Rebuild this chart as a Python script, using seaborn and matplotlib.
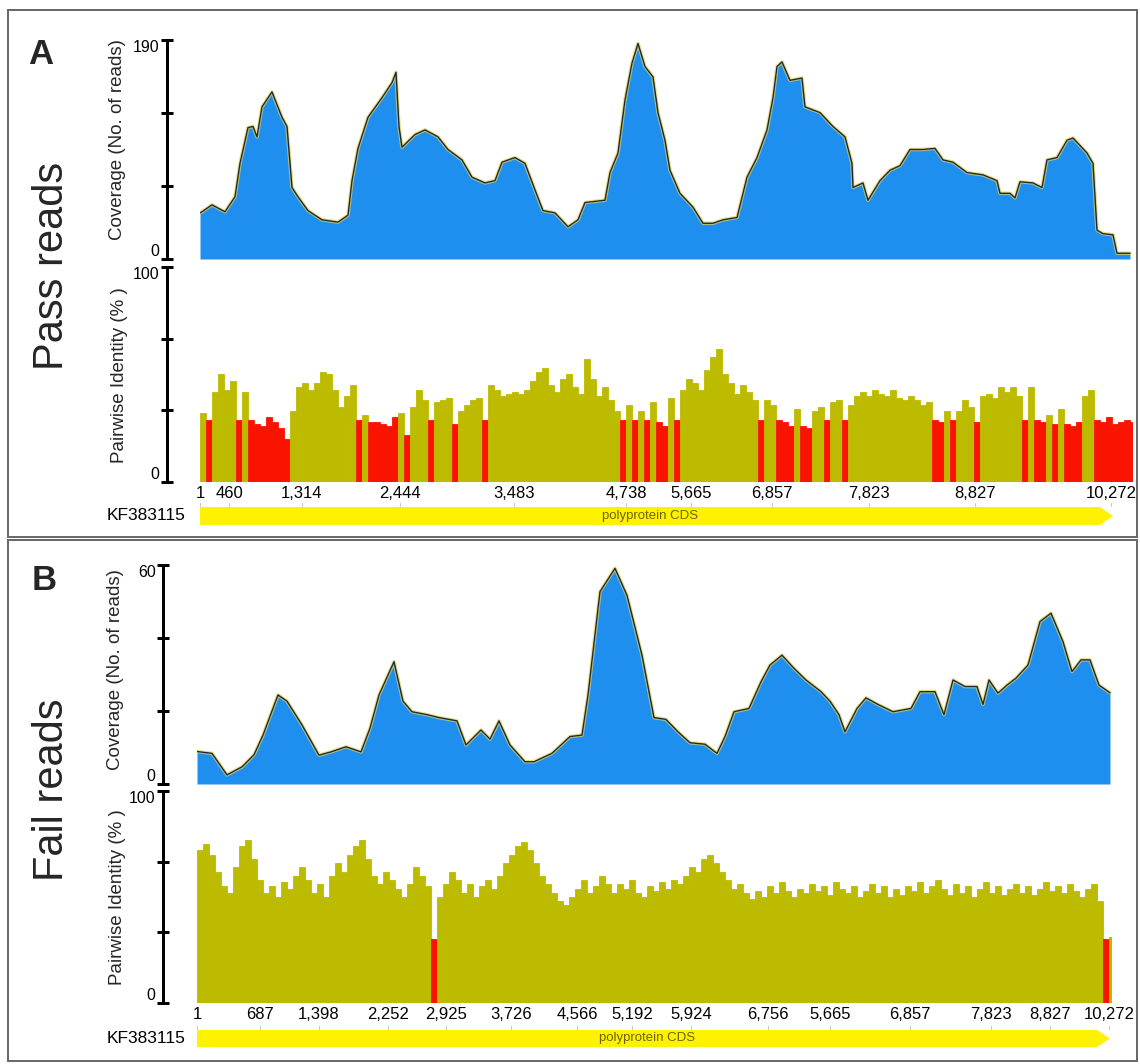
import numpy as np
import pandas as pd
import matplotlib
matplotlib.use('Agg')
import matplotlib.pyplot as plt
import seaborn as sns
from matplotlib.patches import Rectangle, Polygon

# ---------------- data ----------------
# Panel A (Pass reads) coverage: relative position along alignment, number of reads
cov_a_pos = [0, 2, 12, 25, 35, 40, 48, 53, 57, 62, 72, 82, 87, 92, 98, 108, 122, 138, 148, 152,
             158, 168, 182, 192, 196, 199, 202, 215, 225, 238, 248, 262, 272, 285, 295, 302, 315,
             325, 335, 343, 355, 368, 378, 385, 405, 410, 418, 425, 432, 438, 445, 453, 458, 465,
             470, 480, 493, 503, 513, 523, 537, 547, 557, 567, 573, 577, 582, 590, 602, 605, 620,
             633, 645, 652, 653, 663, 668, 680, 690, 700, 710, 723, 735, 743, 753, 767, 783, 797,
             800, 810, 815, 820, 833, 842, 847, 857, 867, 873, 887, 893, 897, 903, 913, 917, 930]
cov_a_val = [40, 41, 47, 41, 54, 83, 114, 115, 106, 132, 145, 123, 115, 62, 54, 42, 34, 32, 38, 68,
             96, 123, 140, 153, 162, 115, 97, 108, 112, 106, 95, 86, 71, 66, 68, 84, 88,
             83, 60, 42, 40, 28, 34, 49, 51, 75, 92, 138, 170, 187, 167, 158, 127, 103,
             77, 57, 45, 31, 31, 34, 36, 71, 88, 112, 140, 167, 171, 155, 157, 132, 127,
             115, 106, 83, 62, 66, 51, 68, 77, 81, 95, 95, 96, 86, 84, 75, 73, 68,
             57, 57, 53, 67, 66, 62, 86, 88, 103, 105, 92, 83, 25, 22, 21, 5, 5]

# Panel A pairwise identity (%), one value per window along the alignment
ident_a = [32, 29, 42, 50, 43, 47, 29, 42, 29, 27, 26, 30, 28, 25, 20, 33, 44, 46, 43, 46,
           51, 50, 43, 35, 40, 45, 29, 31, 28, 28, 27, 26, 30, 32, 22, 35, 43, 38, 29, 37,
           38, 39, 27, 33, 36, 38, 39, 29, 45, 43, 40, 41, 42, 41, 43, 47, 51, 53, 45, 42,
           48, 50, 44, 41, 57, 48, 40, 44, 38, 33, 29, 36, 29, 33, 29, 37, 28, 26, 39, 29,
           43, 48, 46, 43, 52, 58, 62, 50, 46, 41, 45, 42, 38, 29, 38, 36, 29, 28, 26, 34,
           26, 25, 33, 35, 29, 37, 38, 29, 36, 40, 42, 40, 43, 41, 40, 43, 39, 38, 40, 38,
           36, 37, 29, 28, 33, 29, 33, 38, 35, 28, 40, 41, 39, 44, 42, 44, 40, 29, 44, 29,
           28, 31, 27, 34, 27, 26, 28, 40, 43, 29, 28, 30, 27, 28, 29, 28]

# Panel B (Fail reads) coverage
cov_b_pos = [0, 15, 30, 45, 57, 66, 81, 90, 105, 122, 134, 149, 164, 173, 182, 197, 206, 215, 230,
             242, 260, 269, 284, 293, 302, 313, 328, 337, 355, 373, 385, 391, 403, 418, 430, 445,
             457, 469, 481, 493, 508, 520, 528, 537, 552, 564, 573, 585, 597, 609, 624, 633, 642,
             648, 660, 669, 681, 696, 714, 723, 738, 747, 756, 768, 780, 786, 792, 801, 810, 819,
             831, 843, 854, 866, 875, 884, 893, 902, 913]
cov_b_val = [8.9, 8.4, 2.5, 4.7, 8.0, 13.4, 24.4, 22.7, 16.2, 7.9, 8.8, 10.2, 8.8, 15.3, 24.4, 33.5,
             22.7, 19.8, 19.0, 18.2, 17.3, 10.7, 14.8, 12.3, 17.3, 10.7, 6.1, 6.1, 8.4, 13.0, 13.4,
             24.4, 52.7, 59.1, 51.7, 35.3, 18.2, 17.7, 14.3, 11.3, 10.9, 8.4, 13.0, 19.8, 20.7, 28.0,
             32.6, 35.3, 31.7, 28.5, 25.3, 22.7, 19.0, 14.3, 20.7, 23.6, 21.8, 19.8, 20.7, 25.3, 25.3,
             19.0, 28.5, 26.7, 26.7, 21.8, 28.5, 24.9, 27.1, 29.0, 32.6, 44.5, 46.8, 39.0, 30.8, 34.0,
             34.0, 27.1, 25.0]

# Panel B pairwise identity (%)
ident_b = [72, 75, 70, 62, 55, 52, 64, 74, 77, 68, 58, 52, 55, 50, 57, 54, 60, 64, 58, 52,
           56, 50, 60, 66, 62, 70, 74, 77, 68, 60, 56, 62, 58, 54, 50, 56, 64, 60, 55, 30,
           50, 56, 62, 58, 52, 56, 50, 55, 58, 54, 60, 66, 70, 74, 76, 72, 66, 60, 56, 52,
           48, 46, 50, 54, 58, 52, 55, 60, 56, 52, 56, 54, 58, 52, 50, 55, 53, 57, 54, 58,
           56, 60, 64, 62, 68, 70, 66, 62, 58, 54, 56, 52, 49, 53, 50, 55, 52, 57, 53, 50,
           54, 52, 56, 53, 55, 51, 57, 54, 52, 55, 50, 53, 56, 52, 55, 50, 54, 51, 55, 53,
           57, 52, 55, 58, 54, 51, 56, 52, 55, 50, 54, 57, 52, 55, 51, 54, 56, 52, 55, 51,
           54, 57, 53, 55, 52, 56, 53, 50, 54, 56, 48, 30, 31, 30]

ticks_a = ["1", "460", "1,314", "2,444", "3,483", "4,738", "5,665", "6,857", "7,823", "8,827", "10,272"]
ticks_b = ["1", "687", "1,398", "2,252", "2,925", "3,726", "4,566", "5,192", "5,924", "6,756",
           "5,665", "6,857", "7,823", "8,827", "10,272"]

# ---------------- style / layout ----------------
sns.set_style('white')
plt.rcParams['font.family'] = ['Liberation Sans', 'DejaVu Sans']

W, H = 1140, 1064
fig = plt.figure(figsize=(W / 100, H / 100), dpi=100)
fig.patch.set_facecolor('white')

BLUE = '#1f8fef'
OLIVE = '#bdbb00'
RED = '#fa1400'
PX = 72 / 100  # points per pixel

ov = fig.add_axes([0, 0, 1, 1], zorder=-1)
ov.set_xlim(0, W)
ov.set_ylim(H, 0)
ov.axis('off')


def fax(l, t, r, b):
    return fig.add_axes([l / W, 1 - b / H, (r - l) / W, (b - t) / H])


def style_y(ax, ymax, label_top, spine_px):
    for s in ['top', 'right', 'bottom']:
        ax.spines[s].set_visible(False)
    ax.spines['left'].set_position(('outward', spine_px * PX))
    ax.spines['left'].set_linewidth(3 * PX)
    ax.spines['left'].set_color('black')
    ax.set_ylim(0, ymax)
    ax.set_yticks([0, ymax / 3, 2 * ymax / 3, ymax], ['0', '', '', label_top])
    ax.tick_params(axis='y', left=True, direction='inout', length=12 * PX, width=3 * PX,
                   labelsize=11.5, pad=1, colors='black')
    labs = ax.get_yticklabels()
    labs[0].set_va('bottom')
    labs[-1].set_va('top')
    ax.set_facecolor('none')


def panel(letter, title, cov_pos, cov_val, ident, tick_px, tick_labels,
          left, right, cov_t, cov_b, id_t, id_b, spine_x, arr_t, arr_b, tip,
          cov_max, cov_label_top, ylab_cov, ylab_id, letter_xy, title_xy, cds_x, box):
    span = right - left
    # coverage
    ax = fax(left, cov_t, right, cov_b)
    ax.fill_between(cov_pos, cov_val, 0, color=BLUE, lw=0)
    sns.lineplot(x=cov_pos, y=cov_val, ax=ax, color='#e3cf5a', lw=2.6, alpha=0.7)
    sns.lineplot(x=cov_pos, y=cov_val, ax=ax, color='#1e2a30', lw=1.0)
    ax.set_xlim(0, span)
    ax.set_xticks([])
    style_y(ax, cov_max, cov_label_top, left - spine_x)

    # identity
    ax2 = fax(left, id_t, right, id_b)
    width = 6
    xs = np.arange(len(ident)) * width
    vals = np.array(ident, dtype=float)
    cols = [RED if v < 31 else OLIVE for v in vals]
    ax2.bar(xs, vals, width=width, align='edge', color=cols, edgecolor=cols, lw=0.6)
    ax2.set_xlim(0, span)
    style_y(ax2, 100, '100', left - spine_x)
    ax2.set_xticks([p - left for p in tick_px], tick_labels)
    ax2.tick_params(axis='x', bottom=False, length=0, pad=3, labelsize=12, colors='black')

    # annotation track
    yc = (arr_t + arr_b) / 2
    ov.add_patch(Polygon([(left, arr_t), (tip - 13, arr_t), (tip, yc), (tip - 13, arr_b), (left, arr_b)],
                         closed=True, facecolor='#fff200', edgecolor='none'))
    for p in tick_px:
        ov.plot([p, p], [arr_t - 4, arr_t - 1], color='#c8c8c8', lw=0.8)
    ov.text(cds_x, yc, 'polyprotein CDS', ha='center', va='center', fontsize=9.5, color='#6e6400')
    ov.text(185, yc, 'KF383115', ha='right', va='center', fontsize=12.5, color='black')

    # labels
    ov.text(ylab_cov[0], ylab_cov[1], 'Coverage (No. of reads)', rotation=90,
            ha='center', va='center', fontsize=13.5)
    ov.text(ylab_id[0], ylab_id[1], 'Pairwise Identity (% )', rotation=90,
            ha='center', va='center', fontsize=13.5)
    ov.text(letter_xy[0], letter_xy[1], letter, ha='center', va='center', fontsize=25,
            fontweight='bold')
    ov.text(title_xy[0], title_xy[1], title, rotation=90, ha='center', va='center', fontsize=30)
    ov.add_patch(Rectangle((box[0], box[1]), box[2] - box[0], box[3] - box[1],
                           facecolor='none', edgecolor='#6a6a6a', lw=2 * PX))


panel('A', 'Pass reads', cov_a_pos, cov_a_val, ident_a,
      [200, 229, 302, 400, 514, 626, 691, 772, 869, 975, 1111], ticks_a,
      left=200, right=1133, cov_t=40, cov_b=259, id_t=267, id_b=482, spine_x=167,
      arr_t=507, arr_b=525, tip=1113, cov_max=190, cov_label_top='190',
      ylab_cov=(118, 140), ylab_id=(120, 375), letter_xy=(41, 54), title_xy=(52, 266),
      cds_x=650, box=(8, 10, 1137, 537))

panel('B', 'Fail reads', cov_b_pos, cov_b_val, ident_b,
      [197, 260, 319, 388, 446, 511, 577, 632, 691, 768, 830, 910, 991, 1050, 1109], ticks_b,
      left=197, right=1112, cov_t=565, cov_b=784, id_t=791, id_b=1003, spine_x=163,
      arr_t=1030, arr_b=1047, tip=1110, cov_max=60, cov_label_top='60',
      ylab_cov=(115, 670), ylab_id=(117, 897), letter_xy=(44, 581), title_xy=(52, 790),
      cds_x=647, box=(8, 540, 1137, 1061))

fig.savefig('out.png', dpi=100, facecolor='white')
